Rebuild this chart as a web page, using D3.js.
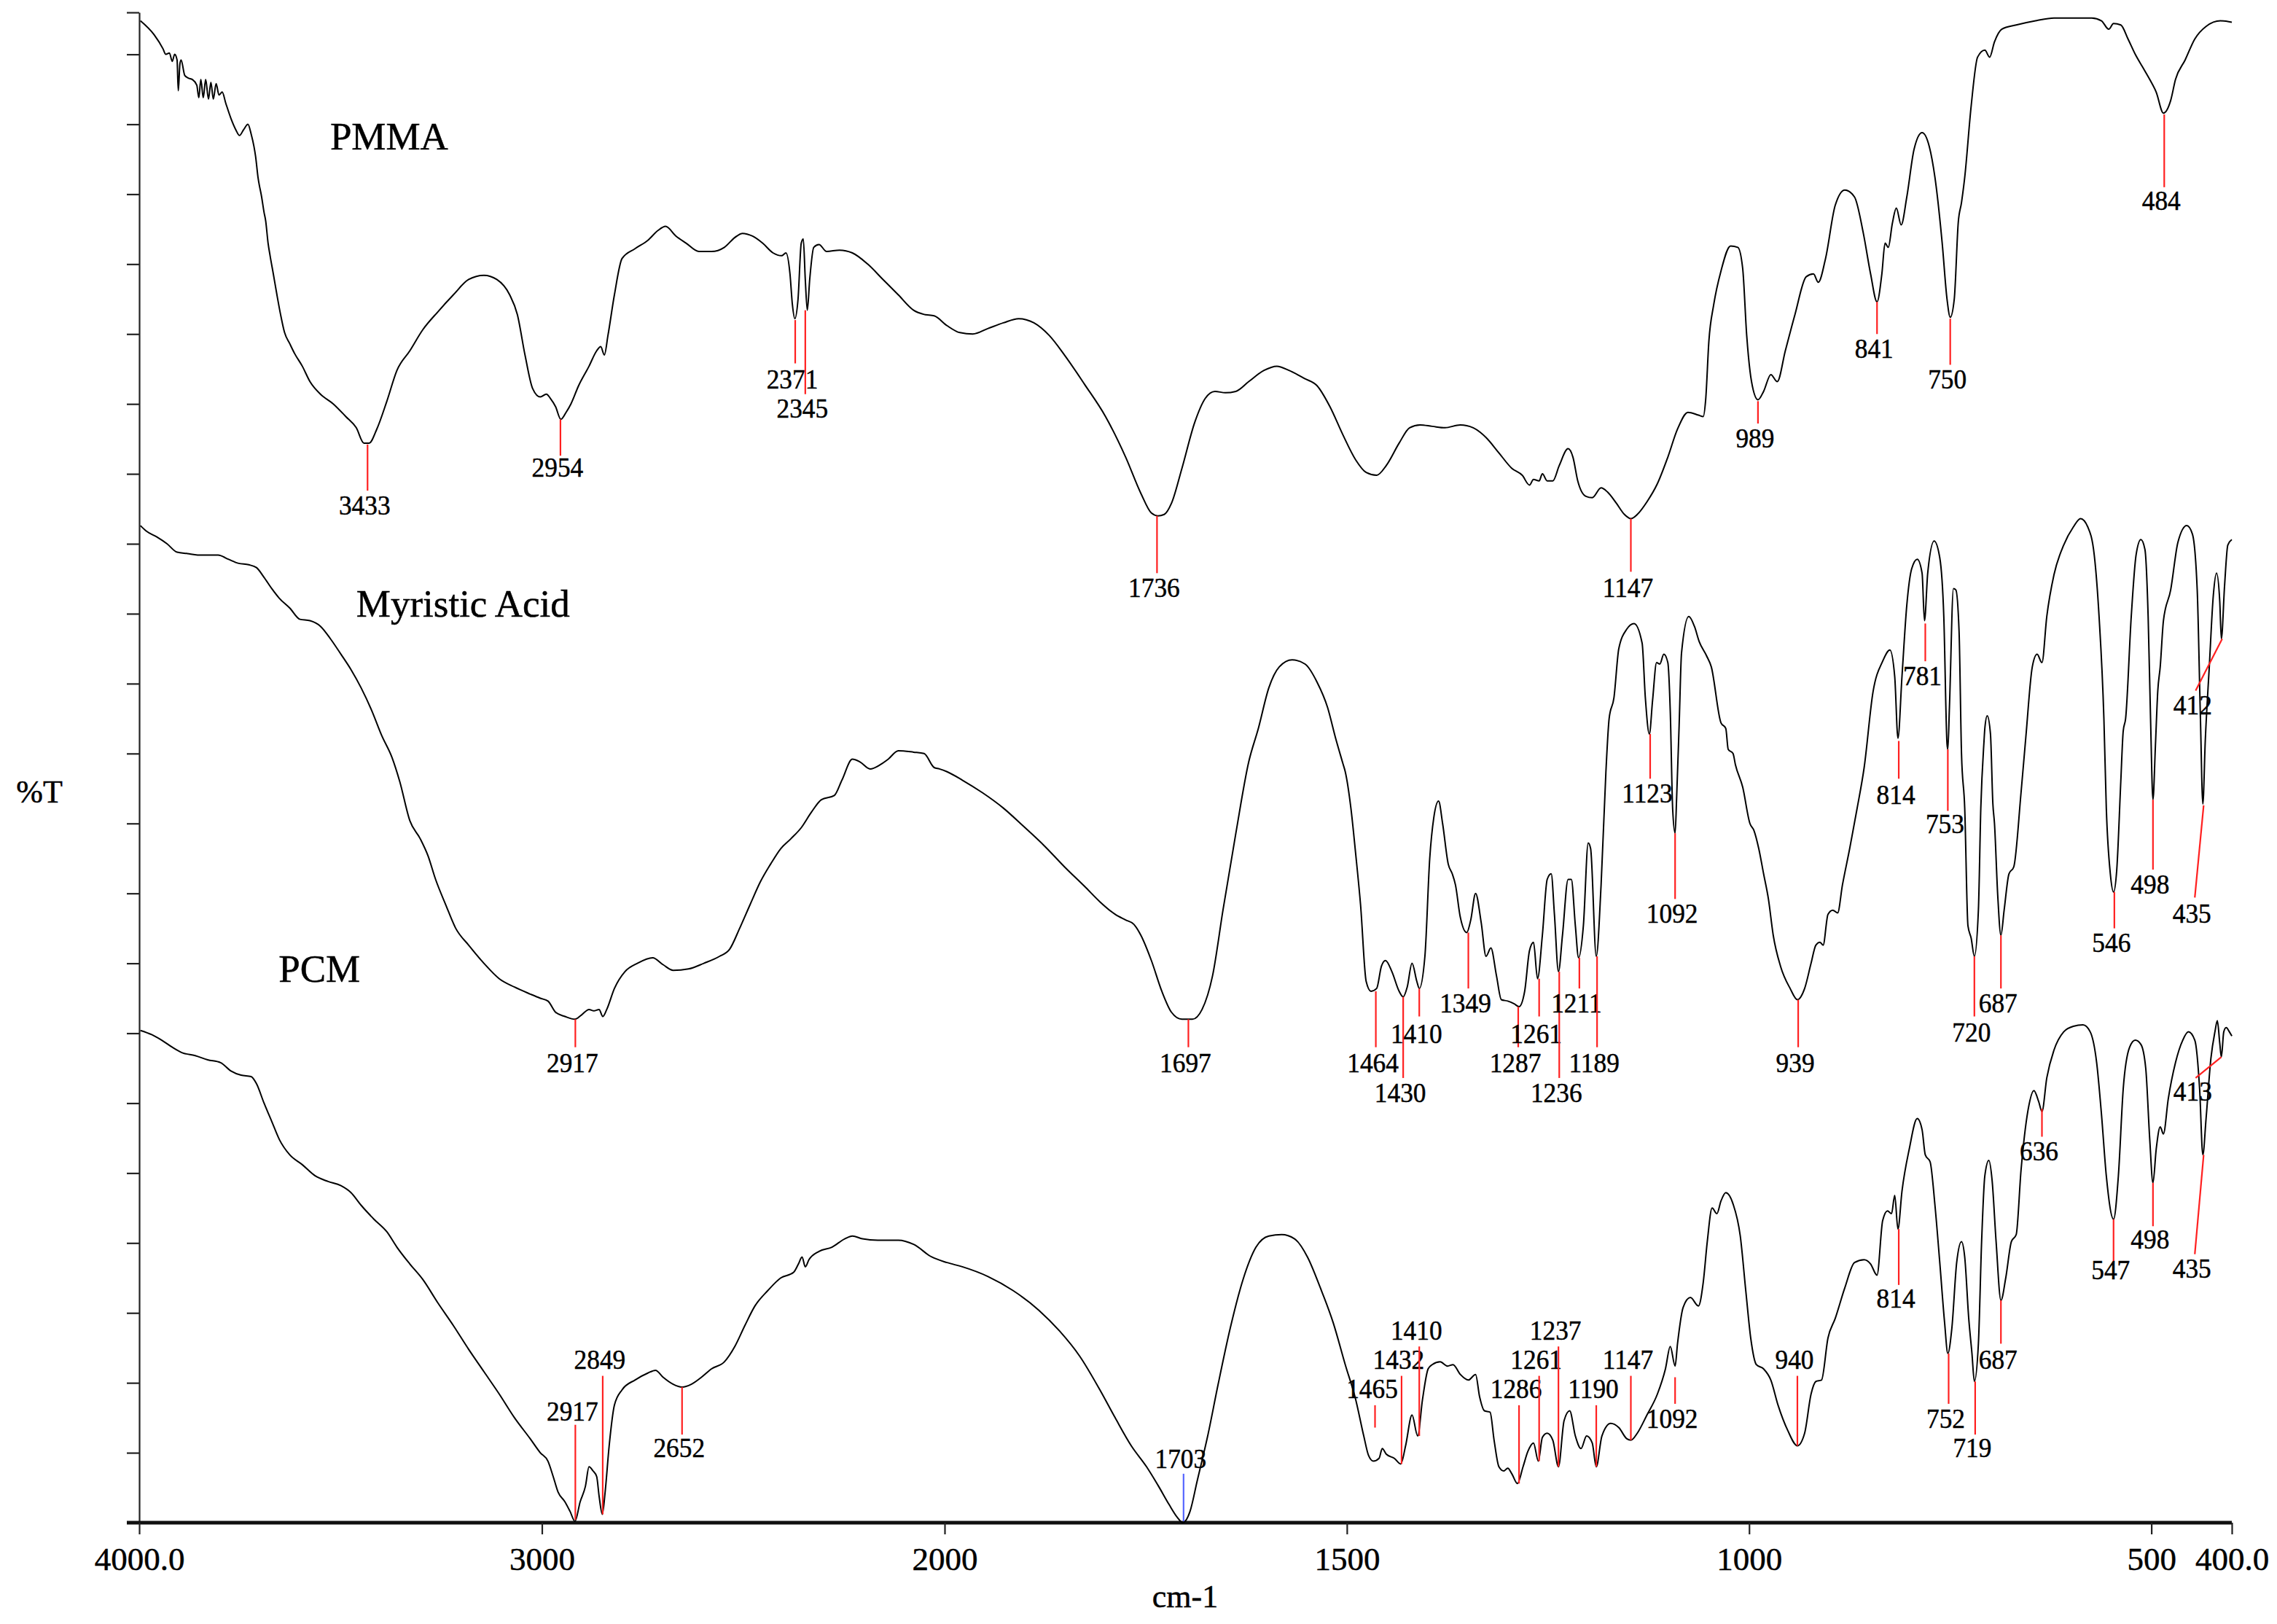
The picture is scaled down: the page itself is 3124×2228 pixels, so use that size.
<!DOCTYPE html>
<html lang="en">
<head>
<meta charset="UTF-8" />
<title>FTIR spectra: PMMA, Myristic Acid, PCM</title>
<style>
    body { margin: 0; padding: 0; background: #fff; }
    svg { display: block; font-family: "Liberation Serif", "Times New Roman", serif; }
    text { stroke: #000; stroke-width: 0.5px; }
</style>
</head>
<body>
<div id="chart"></div>
<script src="https://d3js.org/d3.v7.min.js"></script>
<script>
// x axis (wavenumber, scale changes at 2000 cm-1)
const xTicks = [4000, 3000, 2000, 1500, 1000, 500, 400];
const xTickLabels = ['4000.0', '3000', '2000', '1500', '1000', '500', '400.0'];
const yTicks = d3.range(0, 106, 5).concat([108]);

// spectra: [wavenumber cm-1, %T (stacked, arbitrary offset)]
const pmma = [
    [3997,107.4],[3963,106.4],[3941,105.4],[3934,105.0],[3925,105.1],[3918,104.5],[3912,105.0],[3906,104.6],[3903,102.4],[3899,104.3],
    [3896,104.6],[3887,103.5],[3878,103.3],[3868,103.2],[3857,102.8],[3852,101.9],[3847,103.2],[3841,101.9],[3835,103.2],[3828,101.8],
    [3822,103.0],[3816,101.8],[3809,102.9],[3802,102.1],[3794,102.3],[3785,101.5],[3772,100.4],[3760,99.6],[3751,99.2],[3741,99.6],
    [3730,100.0],[3722,99.3],[3715,98.4],[3711,97.7],[3705,96.2],[3696,94.8],[3690,93.7],[3686,93.1],[3680,91.5],[3675,90.6],
    [3667,89.3],[3658,87.8],[3649,86.4],[3639,85.1],[3626,84.3],[3614,83.6],[3595,82.7],[3576,81.6],[3550,80.7],[3518,80.0],
    [3487,79.1],[3461,78.3],[3442,77.2],[3429,77.2],[3410,78.2],[3385,80.2],[3360,82.4],[3328,83.8],[3296,85.3],[3258,86.6],
    [3220,87.8],[3182,88.9],[3144,89.2],[3112,88.9],[3080,87.8],[3061,86.4],[3042,83.5],[3023,81.1],[3004,80.5],[2989,80.7],
    [2979,80.4],[2966,79.8],[2953,78.9],[2940,79.4],[2928,80.0],[2909,81.3],[2883,82.7],[2864,83.8],[2854,84.1],[2845,83.5],
    [2836,84.9],[2820,87.8],[2801,90.4],[2769,91.1],[2737,91.7],[2712,92.4],[2693,92.7],[2667,92.0],[2642,91.5],[2610,90.9],
    [2579,90.9],[2547,91.2],[2521,91.9],[2502,92.2],[2477,92.0],[2452,91.5],[2426,90.8],[2405,90.6],[2394,90.8],[2384,89.3],
    [2378,87.1],[2372,86.1],[2364,87.5],[2356,91.5],[2351,91.8],[2346,88.9],[2341,86.7],[2335,88.9],[2325,91.2],[2312,91.4],
    [2293,90.9],[2261,91.0],[2229,90.8],[2191,90.0],[2153,88.9],[2115,87.8],[2077,86.7],[2051,86.4],[2026,86.3],[1997,85.6],
    [1981,85.1],[1965,85.0],[1946,85.4],[1927,85.8],[1908,86.1],[1889,85.8],[1870,84.9],[1851,83.5],[1826,81.4],[1800,79.1],
    [1775,76.2],[1756,73.6],[1743,72.2],[1735,72.0],[1727,72.1],[1718,72.9],[1705,75.4],[1689,78.7],[1676,80.4],[1664,80.9],
    [1651,80.8],[1638,80.9],[1622,81.6],[1603,82.4],[1587,82.7],[1572,82.4],[1552,81.8],[1537,81.3],[1521,79.8],[1505,77.8],
    [1489,76.0],[1476,75.1],[1463,74.9],[1451,75.6],[1435,77.2],[1422,78.3],[1409,78.5],[1394,78.4],[1378,78.3],[1359,78.5],
    [1343,78.3],[1327,77.6],[1311,76.5],[1295,75.4],[1282,74.9],[1273,74.2],[1268,74.6],[1261,74.5],[1257,75.0],[1251,74.5],
    [1244,74.5],[1236,75.6],[1225,76.8],[1219,76.2],[1213,74.5],[1203,73.4],[1195,73.3],[1184,74.0],[1176,73.7],[1165,72.9],
    [1155,72.1],[1147,71.8],[1139,72.1],[1127,73.0],[1114,74.3],[1101,76.2],[1089,78.2],[1076,79.4],[1063,79.2],[1057,79.1],
    [1054,80.3],[1050,84.5],[1044,87.1],[1035,89.5],[1023,91.3],[1014,91.2],[1008,89.7],[1003,84.9],[997,81.6],[989,80.3],
    [982,80.9],[973,82.1],[965,81.6],[955,83.8],[943,86.4],[929,89.1],[920,89.3],[914,88.7],[905,90.4],[893,94.2],
    [881,95.3],[869,94.8],[858,92.2],[849,89.3],[841,87.3],[835,89.3],[831,91.5],[827,91.2],[822,92.9],[817,94.0],
    [811,92.8],[804,94.8],[795,98.2],[785,99.4],[776,98.4],[769,96.2],[760,91.5],[754,87.5],[750,86.2],[745,87.5],
    [740,93.0],[736,94.4],[732,96.2],[724,101.3],[716,104.8],[707,105.3],[701,104.8],[695,105.9],[686,106.8],[668,107.1],
    [644,107.4],[621,107.6],[597,107.6],[574,107.6],[562,107.4],[553,106.8],[547,107.2],[538,107.1],[529,106.1],[520,105.0],
    [511,104.1],[502,103.2],[494,102.3],[485,100.8],[476,101.7],[470,103.2],[458,104.6],[446,106.1],[432,107.0],[414,107.4],
    [400,107.3]
];

const myristic = [
    [3997,71.3],[3982,70.9],[3957,70.5],[3931,70.0],[3906,69.4],[3880,69.3],[3855,69.2],[3830,69.2],[3804,69.2],[3779,68.9],
    [3753,68.6],[3728,68.5],[3709,68.3],[3690,67.6],[3671,66.8],[3652,66.1],[3626,65.4],[3601,64.6],[3576,64.5],[3550,64.1],
    [3525,63.2],[3499,62.1],[3474,61.0],[3449,59.7],[3423,58.1],[3398,56.3],[3372,54.7],[3353,53.0],[3328,50.2],[3302,48.9],
    [3283,47.7],[3264,46.0],[3239,44.2],[3214,42.5],[3182,41.3],[3144,40.0],[3106,38.9],[3068,38.3],[3029,37.8],[3004,37.5],
    [2985,37.3],[2966,36.5],[2943,36.2],[2918,36.0],[2902,36.3],[2883,36.7],[2871,36.6],[2858,36.7],[2849,36.2],[2839,36.7],
    [2820,38.2],[2794,39.4],[2763,40.0],[2725,40.4],[2699,39.9],[2674,39.5],[2636,39.6],[2598,40.0],[2559,40.5],[2534,41.0],
    [2509,42.5],[2483,44.2],[2458,45.8],[2432,47.1],[2407,48.2],[2382,48.9],[2356,49.7],[2331,50.8],[2306,51.7],[2274,52.0],
    [2255,53.1],[2229,54.6],[2210,54.4],[2185,53.9],[2160,54.2],[2140,54.6],[2115,55.2],[2077,55.1],[2051,55.0],[2026,54.0],
    [2013,53.9],[1997,53.7],[1978,53.1],[1953,52.2],[1927,51.1],[1902,49.8],[1876,48.4],[1851,46.9],[1826,45.5],[1807,44.4],
    [1788,43.5],[1775,43.1],[1765,42.8],[1756,42.0],[1743,40.2],[1730,38.0],[1718,36.5],[1705,36.0],[1692,36.0],[1680,36.7],
    [1667,39.1],[1654,43.8],[1638,49.3],[1622,54.4],[1610,56.8],[1597,59.7],[1584,61.2],[1568,61.7],[1552,61.4],[1537,60.1],
    [1524,58.3],[1514,56.1],[1505,54.3],[1502,53.7],[1495,51.1],[1489,47.8],[1483,44.2],[1476,38.7],[1470,38.0],[1463,38.2],
    [1457,39.8],[1452,40.2],[1444,39.4],[1435,38.0],[1430,37.6],[1425,38.3],[1419,40.0],[1413,38.7],[1410,38.2],[1403,40.5],
    [1397,47.5],[1392,50.4],[1386,51.6],[1381,50.0],[1374,47.1],[1369,46.4],[1365,45.6],[1359,43.3],[1351,42.2],[1346,43.1],
    [1340,45.0],[1333,42.9],[1327,40.5],[1321,41.1],[1314,39.1],[1308,37.4],[1300,37.3],[1292,37.1],[1286,36.9],[1279,38.0],
    [1273,40.9],[1268,41.5],[1263,38.9],[1257,42.0],[1251,46.0],[1246,46.4],[1242,43.5],[1237,39.4],[1232,42.0],[1225,46.0],
    [1221,46.0],[1216,42.7],[1212,40.4],[1206,42.7],[1200,48.6],[1197,48.2],[1190,40.5],[1184,45.6],[1178,53.7],[1174,57.5],
    [1168,59.0],[1162,62.5],[1152,63.9],[1143,64.3],[1133,62.9],[1129,59.0],[1124,56.4],[1120,58.8],[1115,61.5],[1111,61.4],
    [1106,62.1],[1101,61.5],[1098,58.0],[1095,51.0],[1092,49.3],[1090,52.0],[1087,57.0],[1084,62.2],[1075,64.8],[1068,64.1],
    [1062,63.0],[1053,62.0],[1047,61.2],[1035,57.2],[1029,56.8],[1026,55.3],[1020,55.0],[1017,54.2],[1008,52.6],[999,50.0],
    [994,49.5],[988,48.2],[982,46.4],[976,44.6],[970,42.0],[961,39.8],[949,38.2],[940,37.4],[931,38.2],[923,40.0],
    [917,41.3],[912,41.5],[908,41.3],[902,43.5],[896,43.8],[890,43.6],[884,45.6],[875,48.2],[866,51.0],[857,54.0],
    [846,59.4],[834,61.6],[825,62.4],[819,60.5],[815,56.1],[810,60.5],[804,65.6],[798,68.2],[791,68.9],[785,67.9],
    [782,64.5],[778,67.9],[770,70.2],[763,69.0],[758,64.8],[754,55.7],[753,55.3],[751,58.3],[746,66.8],[743,66.7],
    [739,63.7],[736,55.0],[732,51.1],[728,42.7],[724,41.8],[720,40.5],[715,43.8],[712,51.1],[708,55.9],[707,56.8],
    [704,57.7],[700,56.4],[697,51.4],[695,50.0],[691,44.9],[687,42.0],[683,43.8],[677,46.4],[671,46.9],[662,52.2],
    [656,56.2],[648,61.2],[642,62.1],[636,61.5],[630,64.8],[621,67.8],[609,69.9],[597,71.2],[588,71.8],[579,71.2],
    [571,69.2],[565,64.8],[559,57.5],[556,51.1],[551,46.4],[547,45.1],[543,46.7],[538,53.0],[535,56.6],[532,57.5],
    [525,64.8],[519,69.2],[513,70.3],[508,69.6],[504,64.8],[501,57.5],[498,51.7],[495,55.5],[492,59.5],[489,61.2],
    [485,64.5],[476,66.7],[467,70.1],[456,71.3],[449,70.7],[443,66.7],[439,57.5],[436,51.4],[433,55.9],[428,61.2],
    [423,66.3],[419,67.9],[415,65.9],[413,63.2],[409,67.0],[405,69.9],[400,70.3]
];

const pcm = [
    [3997,35.2],[3969,34.9],[3944,34.5],[3918,34.0],[3893,33.6],[3861,33.4],[3830,33.1],[3798,32.9],[3772,32.3],[3747,32.0],
    [3722,31.9],[3709,31.4],[3690,30.0],[3671,28.7],[3652,27.4],[3626,26.3],[3595,25.6],[3563,24.8],[3531,24.4],[3499,24.1],
    [3474,23.6],[3449,22.7],[3417,21.7],[3385,20.8],[3360,19.7],[3328,18.5],[3296,17.4],[3258,15.7],[3220,14.1],[3182,12.4],
    [3144,10.8],[3106,9.2],[3068,7.5],[3029,6.0],[3004,5.0],[2985,4.4],[2972,3.3],[2960,2.2],[2943,1.5],[2930,0.8],
    [2918,0.1],[2905,1.5],[2892,2.6],[2883,4.0],[2873,3.7],[2864,3.3],[2858,1.9],[2850,0.6],[2843,2.2],[2833,5.5],
    [2820,8.4],[2801,9.5],[2769,10.2],[2737,10.7],[2718,10.9],[2699,10.4],[2674,9.9],[2652,9.7],[2629,9.9],[2604,10.4],
    [2579,11.0],[2547,11.5],[2521,12.6],[2496,14.1],[2471,15.5],[2439,16.6],[2407,17.5],[2375,17.9],[2363,18.5],[2354,19.0],
    [2346,18.3],[2337,18.8],[2312,19.4],[2280,19.7],[2248,20.3],[2229,20.5],[2204,20.3],[2166,20.2],[2115,20.2],[2077,19.9],
    [2032,19.0],[1997,18.6],[1978,18.3],[1946,17.6],[1915,16.6],[1883,15.2],[1857,13.7],[1832,11.9],[1807,9.5],[1788,7.5],
    [1768,5.5],[1749,4.0],[1734,2.6],[1721,1.3],[1711,0.4],[1704,0.0],[1695,0.8],[1686,3.0],[1673,6.2],[1660,9.9],
    [1645,13.9],[1629,17.4],[1613,19.7],[1597,20.5],[1581,20.6],[1565,20.3],[1549,19.0],[1533,16.8],[1517,14.3],[1502,11.3],
    [1489,8.8],[1479,6.2],[1473,4.8],[1467,4.4],[1460,4.6],[1456,5.3],[1451,4.9],[1441,4.6],[1433,4.2],[1427,5.5],
    [1419,7.7],[1412,6.2],[1406,8.8],[1399,11.0],[1394,11.3],[1384,11.5],[1375,11.2],[1368,11.3],[1359,10.6],[1349,10.2],
    [1340,10.6],[1335,9.0],[1329,8.0],[1322,7.9],[1317,5.9],[1311,4.0],[1305,3.7],[1300,3.9],[1295,3.5],[1288,2.8],
    [1281,4.0],[1275,5.1],[1268,5.7],[1262,4.4],[1257,6.1],[1251,6.4],[1244,5.9],[1237,4.0],[1230,7.3],[1223,8.0],
    [1216,6.2],[1209,5.3],[1202,6.2],[1195,5.7],[1190,4.0],[1183,6.2],[1172,7.1],[1162,6.8],[1152,6.0],[1147,5.9],
    [1139,6.4],[1127,7.7],[1114,9.2],[1104,11.0],[1098,12.6],[1092,11.2],[1089,12.8],[1082,15.4],[1073,16.1],[1063,15.5],
    [1057,17.2],[1052,20.1],[1046,22.5],[1040,22.1],[1035,23.0],[1029,23.6],[1020,22.8],[1011,20.5],[1004,16.5],[998,13.2],
    [991,11.3],[982,11.0],[973,10.2],[964,8.4],[952,6.6],[940,5.5],[931,6.4],[923,9.2],[917,10.1],[910,10.2],
    [902,13.2],[893,14.6],[881,16.8],[869,18.6],[857,18.8],[849,18.5],[841,17.7],[834,21.6],[828,22.3],[823,22.1],
    [819,23.4],[815,21.0],[810,23.7],[801,26.7],[791,28.9],[785,28.1],[781,26.3],[775,25.8],[769,22.7],[763,18.6],
    [757,14.3],[753,12.1],[748,13.9],[742,18.6],[736,20.1],[732,19.0],[727,14.6],[723,12.1],[720,10.1],[715,12.8],
    [711,20.1],[707,24.8],[702,25.9],[698,24.5],[693,20.1],[687,15.9],[681,17.5],[674,20.1],[668,20.6],[662,25.2],
    [653,29.6],[646,30.9],[640,30.1],[636,29.4],[630,31.8],[621,33.8],[609,35.1],[597,35.5],[585,35.6],[576,35.1],
    [568,32.9],[562,29.2],[556,24.8],[547,21.7],[541,24.8],[535,31.0],[527,34.0],[520,34.5],[513,34.2],[507,32.5],
    [502,27.4],[498,24.3],[494,26.7],[489,28.3],[485,27.8],[479,30.3],[470,32.9],[461,34.5],[454,35.1],[446,34.5],
    [440,31.0],[436,26.3],[432,28.9],[426,33.2],[421,35.1],[418,35.9],[415,34.3],[413,33.3],[410,35.1],[407,35.4],
    [403,35.1],[400,34.8]
];

// peak picks: [label, wavenumber, %T at curve, %T at line end, %T of label baseline, wavenumber at line end (if slanted)]
const pmmaPeaks = [
    ['3433',3433,77.1,73.8,72.1],['2954',2954,78.9,76.3,74.8],['2371',2371,86.0,82.9,81.1],['2345',2346,86.7,80.7,79.0],
    ['1736',1736,72.0,67.9,66.2],['1147',1147,71.8,68.0,66.2],['989',989,80.2,78.6,76.9],['841',841,87.3,85.0,83.3],
    ['750',750,86.1,82.8,81.1],['484',484,100.7,95.5,93.9]
];
const myristicPeaks = [
    ['2917',2917,36.0,34.0,32.2],['1697',1697,36.0,34.0,32.2],['1464',1464,38.0,34.0,32.2],['1430',1430,37.6,31.8,30.1],
    ['1410',1410,38.2,36.2,34.3],['1349',1349,42.2,38.2,36.5],['1287',1287,36.9,34.0,32.2],['1261',1261,38.9,36.2,34.3],
    ['1236',1236,39.4,31.8,30.1],['1211',1211,40.4,38.2,36.5],['1189',1189,40.5,34.0,32.2],['1123',1123,56.4,53.2,51.5],
    ['1092',1092,49.3,44.6,42.9],['939',939,37.4,34.0,32.2],['814',814,55.9,53.2,51.4],['781',781,64.3,61.6,59.9],
    ['753',753,55.3,50.9,49.3],['720',720,40.5,36.2,34.4],['687',687,42.0,38.2,36.5],['546',546,45.1,42.5,40.8],
    ['498',498,51.7,46.7,45.0],['435',435,51.3,44.7,42.9,446],['412',412,63.2,59.5,57.8,445]
];
const pcmPeaks = [
    ['2917',2917,0.2,7.0,7.3],['2849',2849,0.6,10.5,11.0],['2652',2652,9.7,6.3,4.7],['1703',1703,0.1,3.5,3.9],
    ['1465',1465,6.8,8.4,8.9],['1432',1432,4.2,10.5,11.0],['1410',1410,6.2,12.6,13.1],['1286',1286,2.8,8.4,8.9],
    ['1261',1261,4.4,10.5,11.0],['1237',1237,4.0,12.6,13.1],['1190',1190,4.0,8.4,8.9],['1147',1147,5.9,10.5,11.0],
    ['1092',1092,10.4,8.5,6.8],['940',940,5.5,10.5,11.0],['814',814,21.0,17.0,15.4],['752',752,12.1,8.5,6.8],
    ['719',719,10.1,6.3,4.7],['687',687,15.9,12.8,11.0],['636',636,29.6,27.6,25.9],['547',547,21.7,18.6,17.4],
    ['498',498,24.3,21.2,19.6],['435',435,26.3,19.2,17.5,446],['413',413,33.3,31.8,30.2,445]
];
const markedPeak = '1703';

// sample names: [text, wavenumber, %T]
const sampleNames = [['PMMA', 3526, 98.2], ['Myristic Acid', 3461, 64.8], ['PCM', 3654, 38.7]];

const width = 3124, height = 2228;
const svg = d3.select('#chart').append('svg').attr('width', width).attr('height', height);

const x = d3.scaleLinear().domain([4000, 2000, 400]).range([191, 1296, 3062]);
const y = d3.scaleLinear().domain([0, 108]).range([2089, 17]);

// y axis: ticks only, no labels
const yAxis = svg.append('g').attr('transform', `translate(${x(4000)},0)`)
    .call(d3.axisLeft(y).tickValues(yTicks).tickSize(17).tickSizeOuter(0).tickFormat(''));
yAxis.selectAll('line, path').attr('stroke', '#222').attr('stroke-width', 2.2);

// x axis
const xAxis = svg.append('g').attr('transform', `translate(0,${y(0)})`)
    .call(d3.axisBottom(x).tickValues(xTicks).tickSize(16).tickSizeOuter(0).tickFormat((d, i) => xTickLabels[i]));
xAxis.select('.domain').attr('d', `M${x(4000) - 17},0H${x(400)}`).attr('stroke', '#111').attr('stroke-width', 5);
xAxis.selectAll('.tick line').attr('stroke', '#222').attr('stroke-width', 2.2);
xAxis.selectAll('.tick text').attr('y', 65).attr('dy', null).attr('fill', '#000')
    .style('font-family', '"Liberation Serif", serif').style('font-size', '45px');

svg.append('text').attr('x', 1626).attr('y', 2205).attr('text-anchor', 'middle').style('font-size', '44px').text('cm-1');
svg.append('text').attr('x', 54).attr('y', 1101).attr('text-anchor', 'middle').style('font-size', '44px').text('%T');

// spectra
const line = d3.line().x((d) => x(d[0])).y((d) => y(d[1])).curve(d3.curveMonotoneX);
[pmma, myristic, pcm].forEach((s) => {
    svg.append('path').datum(s).attr('fill', 'none').attr('stroke', '#000').attr('stroke-width', 2).attr('stroke-linejoin', 'round').attr('d', line);
});

// peak markers
function drawPeaks(peaks) {
    const g = svg.append('g');
    peaks.forEach(([label, wn, tip, end, base, wnEnd]) => {
        const we = wnEnd === undefined ? wn : wnEnd;
        g.append('line')
            .attr('x1', x(wn)).attr('y1', y(tip)).attr('x2', x(we)).attr('y2', y(end))
            .attr('stroke', label === markedPeak ? '#5566ff' : '#ff2020').attr('stroke-width', 2.2);
        g.append('text')
            .attr('transform', `translate(${x(we) - 4},${y(base)}) scale(0.93,1)`)
            .attr('text-anchor', 'middle').style('font-size', '38px').text(label);
    });
}
drawPeaks(pmmaPeaks);
drawPeaks(myristicPeaks);
drawPeaks(pcmPeaks);

sampleNames.forEach(([name, wn, t]) => {
    svg.append('text').attr('x', x(wn)).attr('y', y(t)).style('font-size', '53px').text(name);
});
</script>
</body>
</html>
